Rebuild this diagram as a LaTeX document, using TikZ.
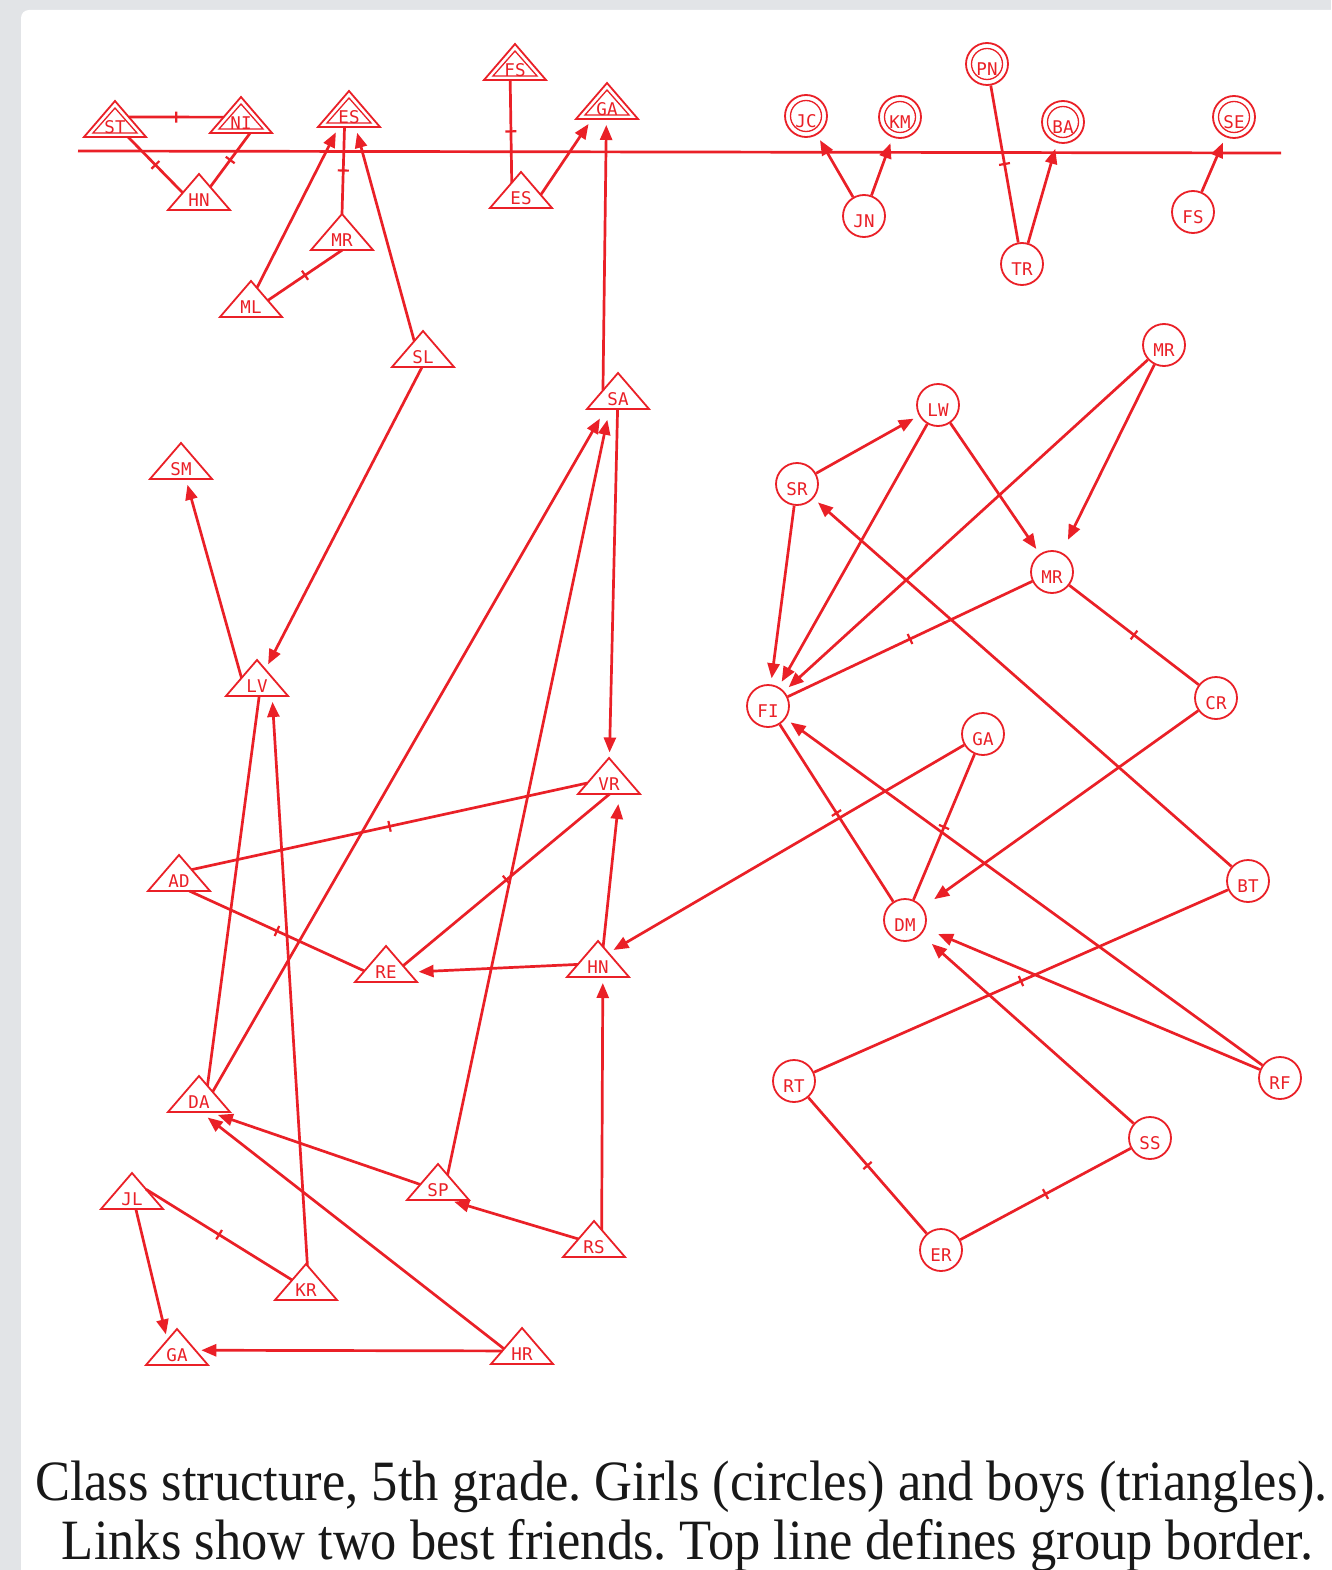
\documentclass[tikz,border=0pt]{standalone}
\usepackage{fontspec}
\setmainfont{Liberation Serif}
\newfontfamily\lblfont{DejaVu Sans Mono}
\usetikzlibrary{arrows.meta,decorations.markings}
\definecolor{netred}{RGB}{234,32,39}
\definecolor{bggray}{RGB}{226,228,231}
\definecolor{captxt}{RGB}{24,24,24}
% invisible triangle-border shape for the boys (half width 31, half height 18)
\makeatletter
\pgfdeclareshape{boytri}{%
  \savedanchor\centerpoint{%
    \pgf@x=.5\wd\pgfnodeparttextbox
    \pgf@y=.5\ht\pgfnodeparttextbox
    \advance\pgf@y by -.5\dp\pgfnodeparttextbox}%
  \anchor{center}{\centerpoint}%
  \anchor{text}{\pgfpointorigin}%
  \anchorborder{%
    \edef\bt@dx{\the\pgf@x}%
    \edef\bt@dy{\the\pgf@y}%
    \pgfmathsetmacro\bt@len{max(veclen(\bt@dx,\bt@dy),0.001)}%
    \pgfmathsetmacro\bt@ux{(\bt@dx)/\bt@len}%
    \pgfmathsetmacro\bt@uy{(\bt@dy)/\bt@len}%
    \pgfmathsetmacro\bt@ta{558/max(36*(\bt@ux)+31*(\bt@uy),0.5)}%
    \pgfmathsetmacro\bt@tb{558/max(31*(\bt@uy)-36*(\bt@ux),0.5)}%
    \pgfmathsetmacro\bt@tc{18/max(0-(\bt@uy),0.02)}%
    \pgfmathsetmacro\bt@t{min(min(\bt@ta,\bt@tb),\bt@tc)}%
    \pgfmathsetmacro\bt@px{\bt@t*(\bt@ux)}%
    \pgfmathsetmacro\bt@py{\bt@t*(\bt@uy)}%
    \centerpoint
    \advance\pgf@x by \bt@px pt\relax
    \advance\pgf@y by \bt@py pt\relax}%
}
\makeatother
\tikzset{
  girl/.style={circle, draw=netred, line width=1.8pt, minimum size=42pt, inner sep=0pt,
    font=\lblfont\fontsize{17.5pt}{18pt}\selectfont, text=netred, text height=22.4pt, text depth=0pt},
  boyn/.style={shape=boytri, draw=none, inner sep=0pt, outer sep=0pt,
    font=\lblfont\fontsize{17.5pt}{18pt}\selectfont, text=netred, text height=28.4pt, text depth=0pt},
  tri/.style={draw=netred, line width=1.8pt, line join=miter},
  tri2/.style={draw=netred, line width=1.3pt, line join=miter},
  lnk/.style={draw=netred, line width=2.7pt},
  arr/.style={lnk, -{Triangle[length=15pt,width=12pt]}, shorten >=6pt},
  far/.style={shorten >=14pt},
  mut/.style={lnk, postaction={decorate, decoration={markings,
      mark=at position 0.5 with {\draw[netred, line width=2.2pt] (0,-5.5pt) -- (0,5.5pt);}}}},
  captnode/.style={anchor=base, inner sep=0pt, text=captxt, font=\fontsize{57pt}{60pt}\selectfont},
}
\newcommand\Boy[4]{%
  \node[boyn] (#1) at (#2,#3+18) {#4};
  \draw[tri] ([shift={(0,-18)}]#1.center) -- ([shift={(31,18)}]#1.center)
     -- ([shift={(-31,18)}]#1.center) -- cycle;}
\newcommand\BoyD[4]{%
  \Boy{#1}{#2}{#3}{#4}
  \draw[tri2] ([shift={(0,-11)}]#1.center) -- ([shift={(22,14)}]#1.center)
     -- ([shift={(-22,14)}]#1.center) -- cycle;}
\newcommand\Girl[4]{\node[girl] (#1) at (#2,#3) {#4};}
\newcommand\GirlD[4]{\Girl{#1}{#2}{#3}{#4}\draw[tri2] (#1.center) circle[radius=15.5];}
\begin{document}
\frenchspacing
\begin{tikzpicture}[x=1pt,y=-1pt]
\useasboundingbox (0,0) rectangle (1331,1570);
\fill[bggray] (0,0) rectangle (1331,1570);
\fill[white, rounded corners=8pt] (21,10) rectangle (1350,1590);

% border line
\coordinate (bl) at (78,151);
\coordinate (br) at (1281,153);
\draw[lnk] (bl) -- (br);

% boys (double = above the line)
\BoyD{st}{115}{101}{ST}
\BoyD{ni}{241}{97}{NI}
\BoyD{esa}{349}{91}{ES}
\BoyD{fsa}{515}{44}{FS}
\BoyD{gaa}{607}{83}{GA}
\Boy{hna}{199}{174}{HN}
\Boy{mra}{342}{214}{MR}
\Boy{ml}{251}{281}{ML}
\Boy{esb}{521}{172}{ES}
\Boy{sl}{423}{331}{SL}
\Boy{sa}{618}{373}{SA}
\Boy{sm}{181}{443}{SM}
\Boy{lv}{257}{660}{LV}
\Boy{vr}{609}{758}{VR}
\Boy{ad}{179}{855}{AD}
\Boy{re}{386}{946}{RE}
\Boy{hnb}{598}{941}{HN}
\Boy{da}{199}{1076}{DA}
\Boy{sp}{438}{1164}{SP}
\Boy{jl}{132}{1173}{JL}
\Boy{rs}{594}{1221}{RS}
\Boy{kr}{306}{1264}{KR}
\Boy{gab}{177}{1329}{GA}
\Boy{hr}{522}{1328}{HR}

% girls
\GirlD{jc}{806}{116}{JC}
\GirlD{km}{900}{117}{KM}
\GirlD{pn}{987}{64}{PN}
\GirlD{ba}{1063}{122}{BA}
\GirlD{se}{1234}{117}{SE}
\Girl{jn}{864}{216}{JN}
\Girl{tr}{1022}{264}{TR}
\Girl{fsb}{1193}{212}{FS}
\Girl{mrc}{1164}{345}{MR}
\Girl{lw}{938}{405}{LW}
\Girl{sr}{797}{484}{SR}
\Girl{mrd}{1052}{572}{MR}
\Girl{fi}{768}{706}{FI}
\Girl{cr}{1216}{698}{CR}
\Girl{gac}{983}{734}{GA}
\Girl{bt}{1248}{881}{BT}
\Girl{dm}{905}{920}{DM}
\Girl{rt}{794}{1081}{RT}
\Girl{rf}{1280}{1078}{RF}
\Girl{ss}{1150}{1138}{SS}
\Girl{er}{941}{1250}{ER}

% mutual links
\draw[mut] (st.8) -- (ni.187);
\draw[mut] (st.-54) -- (hna.183);
\draw[mut] (ni.-63) -- (hna.24);
\draw[mut] (mra.90) -- (esa.256);
\draw[mut] (ml.-5) -- (mra.-89);
\draw[mut] (esb.142) -- (fsa.-105);
\draw[mut] (ad.15) -- (vr.198);
\draw[mut] (ad.-60) -- (re.198);
\draw[mut] (re.-6) -- (vr.-88);
\draw[mut] (jl.7) -- (kr.172);
\foreach \a/\b in {tr/pn, mrd/fi, mrd/cr, fi/dm, gac/dm, rt/bt, rt/er, er/ss}
  \draw[mut] (\a) -- (\b);
% plain link
\draw[lnk] (lv.-83) -- (da.44);
% one-way links, boys
\draw[arr] (ml.62) -- (esa.240);
\draw[arr] (sl.138) -- (esa.-70);
\draw[arr] (esb.-14) -- (gaa.-130);
\draw[arr] (sa.178) -- (gaa.-92);
\draw[arr] (sl.-93) -- (lv.45);
\draw[arr] (lv.180) -- (sm.-75);
\draw[arr] (sa) -- (vr);
\draw[arr, shorten >=11pt] (da.9) -- (sa.-125);
\draw[arr, shorten >=11pt] (sp.36) -- (sa.-115);
\draw[arr, shorten >=10pt] (hnb.195) -- (re.-20);
\draw[arr, shorten >=10pt] (hnb.67) -- (vr.-60);
\draw[arr] (kr.85) -- (lv.-50);
\draw[arr, shorten >=9pt] (sp.188) -- (da.-60);
\draw[arr, shorten >=9pt] (hr.189) -- (da.-85);
\draw[arr] (jl.-78) -- (gab.145);
\draw[arr] (hr.194) -- (gab.-10);
\draw[arr] (rs.180) -- (sp.-60);
\draw[arr] (rs.50) -- (hnb.-75);
\draw[arr] (gac) -- (hnb);
% one-way links, girls
\foreach \a/\b in {jn/jc, jn/km, tr/ba, fsb/se, sr/lw, sr/fi, lw/fi, lw/mrd, mrc/fi, bt/sr, rf/fi}
  \draw[arr] (\a) -- (\b);
\foreach \a/\b in {mrc/mrd, cr/dm, rf/dm, ss/dm}
  \draw[arr, far] (\a) -- (\b);

% caption
\node[captnode] (cap1) at (681.5,1500) {\resizebox{1293pt}{\height}{Class structure, 5th grade. Girls (circles) and boys (triangles).}};
\node[captnode] (cap2) at (687.5,1559) {\resizebox{1251pt}{\height}{Links show two best friends. Top line defines group border.}};
\end{tikzpicture}
\end{document}
